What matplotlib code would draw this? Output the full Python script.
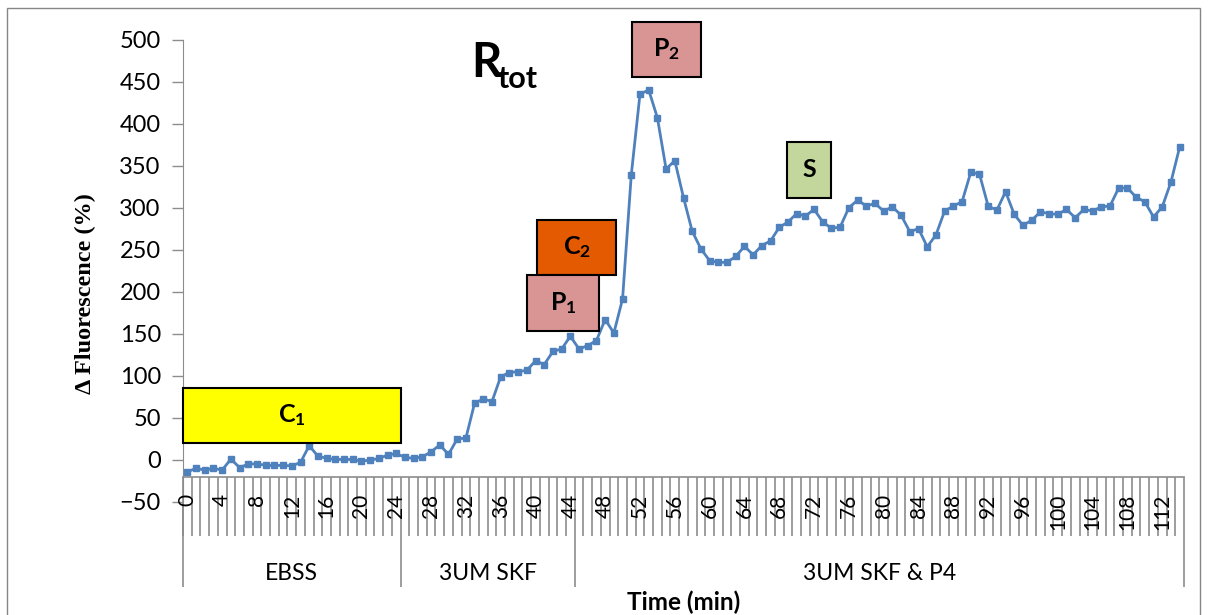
import numpy as np
import matplotlib
matplotlib.use('Agg')
import matplotlib.pyplot as plt
from matplotlib.patches import Rectangle

plt.rcParams['font.family'] = ['Lato', 'DejaVu Sans']
plt.rcParams['mathtext.fontset'] = 'custom'
plt.rcParams['mathtext.rm'] = 'Lato'
plt.rcParams['mathtext.bf'] = 'Lato:bold'
plt.rcParams['mathtext.it'] = 'Lato:italic'

# time points (min) and Rtot fluorescence change (%)
time_min = np.arange(0, 115)
fluorescence = [
    -14, -10, -12, -10, -12, 1, -9, -5, -4.5, -6.5,
    -6.5, -6.5, -7, -3, 17, 4.5, 2, 0.6, 0.6, 0.6,
    -1.4, -0.2, 1.8, 5.7, 7.7, 3, 2, 3.7, 9.6, 18,
    6.5, 25, 26, 67.5, 72.5, 69.5, 99, 104, 105, 106.5,
    118, 113.5, 129, 132, 147, 132, 136, 142, 167, 151,
    191.5, 339, 435, 440, 407, 346, 356, 312, 272, 251,
    237, 235, 235, 242, 254, 244, 255, 260.5, 276.5, 283,
    293, 290, 298, 283, 275.5, 277, 300, 309, 302, 305,
    296, 301, 291, 271.5, 275, 253.5, 267.5, 296, 302, 307,
    342, 340, 302, 297, 319, 292, 279, 285, 295, 293,
    292, 298, 288, 298, 296, 301, 302, 323.5, 323.5, 312.5,
    307, 289, 301, 330.5, 372,
]

# treatment phases and their category boundaries
phase_labels = ['EBSS', '3UM SKF', '3UM SKF & P4']
phase_bounds = [-0.5, 24.5, 44.5, 114.5]

# annotation boxes: label, x range, y range, colour
box_labels = [r'$\mathbf{C_1}$', r'$\mathbf{C_2}$', r'$\mathbf{P_1}$', r'$\mathbf{P_2}$', r'$\mathbf{S}$']
box_x = [(-0.5, 24.5), (40.2, 49.3), (39.0, 47.3), (51.1, 59.0), (68.9, 74.0)]
box_y = [(19.6, 86.1), (220.3, 285.6), (153.0, 219.5), (455.5, 520.8), (311.4, 378.3)]
box_colors = ['#FFFF00', '#E35A00', '#D99594', '#D99594', '#C3D69B']

W, H = 1209, 615
fig = plt.figure(figsize=(W / 100, H / 100), dpi=100)
ax = fig.add_axes([183 / W, 1 - 502 / H, (1184 - 183) / W, (502 - 39.5) / H])

gray = '#8C8C8C'

ax.plot(time_min, fluorescence, color='#4F81BD', lw=2, marker='s',
        markersize=5, zorder=3, clip_on=False)

ax.set_xlim(-0.5, 114.5)
ax.set_ylim(-50, 500)
ax.set_yticks(np.arange(-50, 501, 50))
ax.tick_params(axis='y', labelsize=17, length=8, width=1, color=gray, pad=8)
ax.set_xticks([])
for s in ['top', 'right', 'bottom']:
    ax.spines[s].set_visible(False)
ax.spines['left'].set_color(gray)

# category axis crossing at -20
ax.plot([-0.5, 114.5], [-20, -20], color=gray, lw=1.2, clip_on=False, zorder=2)
ax.vlines(np.arange(-0.5, 115, 1), -91, -20, color=gray, lw=1.2, clip_on=False, zorder=2)
ax.vlines(phase_bounds, -151, -91, color=gray, lw=1.2, clip_on=False, zorder=2)
ax.vlines([-0.5], -91, -50, color=gray, lw=1.2, clip_on=False, zorder=2)

for t in time_min[::4]:
    ax.text(t, -40, str(t), rotation=90, ha='center', va='top', fontsize=15,
            clip_on=False)

for i, lab in enumerate(phase_labels):
    ax.text((phase_bounds[i] + phase_bounds[i + 1]) / 2, -135, lab,
            ha='center', va='center', fontsize=16.5, clip_on=False)

for lab, (x0, x1), (y0, y1), c in zip(box_labels, box_x, box_y, box_colors):
    ax.add_patch(Rectangle((x0, y0), x1 - x0, y1 - y0, facecolor=c,
                           edgecolor='black', lw=1.5, zorder=4, clip_on=False))
    ax.text((x0 + x1) / 2, (y0 + y1) / 2, lab, ha='center', va='center',
            fontsize=18, zorder=5, clip_on=False)

fig.text(471 / W, 1 - 77 / H, 'R', fontsize=34, weight='bold', va='baseline')
fig.text(497 / W, 1 - 88 / H, 'tot', fontsize=22, weight='bold', va='baseline')

fig.text(85 / W, 1 - 294 / H, '\u0394 Fluorescence (%)', rotation=90,
         family='Liberation Serif', weight='bold', fontsize=17.5,
         ha='center', va='center')
fig.text(684 / W, 1 - 602 / H, 'Time (min)', fontsize=17.5, weight='bold',
         ha='center', va='center')

fig.patches.append(Rectangle((7 / W, -0.02), (1200 - 7) / W, 1.02 - 8 / H,
                             transform=fig.transFigure, fill=False,
                             edgecolor='#868686', lw=1))

fig.savefig('out.png', dpi=100)
